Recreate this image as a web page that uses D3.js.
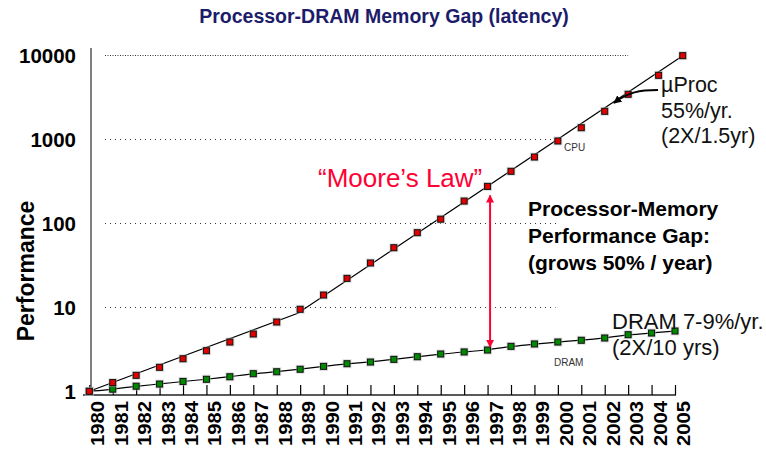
<!DOCTYPE html>
<html>
<head>
<meta charset="utf-8">
<script src="https://d3js.org/d3.v7.min.js"></script>
<style>
  body { margin: 0; background: #fff; }
  svg { display: block; font-family: "Liberation Sans", Arial, sans-serif; }
</style>
</head>
<body>
<div id="chart"></div>
<script>
// data
const years = d3.range(1980, 2006);
const cpuYears = [1980, 1981, 1982, 1983, 1984, 1985, 1986, 1987, 1988, 1989, 1990, 1991, 1992,
  1993, 1994, 1995, 1996, 1997, 1998, 1999, 2000, 2001, 2002, 2003, 2004.3, 2005.33];
const cpuValues = [1, 1.27, 1.55, 1.93, 2.44, 3.04, 3.86, 4.81, 6.68, 9.47, 14, 22.1, 33.7,
  51.2, 77.3, 112, 184, 275, 416, 615, 955, 1374, 2154, 3434, 5781, 9900];
const dramYears = years;
const dramValues = [1, 1.06, 1.15, 1.22, 1.31, 1.39, 1.49, 1.62, 1.71, 1.83, 1.98, 2.13, 2.23,
  2.40, 2.58, 2.78, 2.94, 3.10, 3.43, 3.66, 3.86, 4.05, 4.31, 4.72, 4.94, 5.22];
// CPU trend line knots
const cpuTrendYears = [1980, 1988.9, 2005.33];
const cpuTrendValues = [1, 8.5, 9900];
const yTicks = [1, 10, 100, 1000, 10000];
const gridEnds = [null, 1999.9, 2000, 1999.8, 2003];

const W = 766, H = 450;
const svg = d3.select("#chart").append("svg")
  .attr("width", W).attr("height", H);

const x = d3.scaleLinear().domain([1980, 2005]).range([89.3, 675]);
const y = d3.scaleLog().domain([1, 10000]).range([391.3, 55.3]);

// title
svg.append("text")
  .attr("x", 384).attr("y", 23)
  .attr("text-anchor", "middle")
  .attr("font-size", 19.5).attr("font-weight", "bold")
  .attr("fill", "#1c1c6a")
  .text("Processor-DRAM Memory Gap (latency)");

// dotted grid lines
yTicks.forEach((t, i) => {
  if (!gridEnds[i]) return;
  svg.append("line")
    .attr("x1", 105).attr("x2", x(gridEnds[i]))
    .attr("y1", Math.round(y(t)) + 0.5).attr("y2", Math.round(y(t)) + 0.5)
    .attr("stroke", "#333")
    .attr("stroke-width", 1)
    .attr("stroke-dasharray", t === 10000 ? "1 1.5" : "1 4");
});

// y tick labels
svg.append("g").selectAll("text")
  .data(yTicks).join("text")
  .attr("x", 76).attr("y", d => y(d) + 7.5)
  .attr("text-anchor", "end")
  .attr("font-size", 20.5).attr("font-weight", "bold")
  .attr("fill", "#000")
  .text(d => d);

// y axis title
svg.append("text")
  .attr("transform", "translate(34,271) rotate(-90)")
  .attr("text-anchor", "middle")
  .attr("font-size", 23).attr("font-weight", "bold")
  .text("Performance");

// axis lines
svg.append("line")
  .attr("x1", 91).attr("x2", 91).attr("y1", 48).attr("y2", 395)
  .attr("stroke", "#555").attr("stroke-width", 1.5);
const xAxis = svg.append("g").attr("transform", "translate(0,395)")
  .call(d3.axisBottom(x).tickValues(years).tickSize(-10).tickFormat(""));
xAxis.select(".domain").attr("d", "M83,0H676").attr("stroke", "#222").attr("stroke-width", 1.5);
xAxis.selectAll(".tick line").attr("stroke", "#000").attr("stroke-width", 1.2);

// x tick labels
svg.append("g").selectAll("text")
  .data(years).join("text")
  .attr("transform", d => `translate(${x(d) + 15},401) rotate(-90)`)
  .attr("text-anchor", "end")
  .attr("font-size", 17.5).attr("font-weight", "bold")
  .attr("textLength", 45).attr("lengthAdjust", "spacingAndGlyphs")
  .text(d => d);

// lines
const line = d3.line().x(d => x(d[0])).y(d => y(d[1]));
svg.append("path")
  .datum(cpuTrendYears.map((d, i) => [d, cpuTrendValues[i]]))
  .attr("fill", "none").attr("stroke", "#000").attr("stroke-width", 1.2)
  .attr("d", line);
svg.append("path")
  .datum(dramYears.map((d, i) => [d, dramValues[i]]))
  .attr("fill", "none").attr("stroke", "#000").attr("stroke-width", 1.2)
  .attr("d", line.curve(d3.curveBasis));

// markers
function markers(xs, vs, color) {
  const g = svg.append("g");
  const pts = xs.map((d, i) => [d, vs[i]]);
  g.selectAll("rect.sh").data(pts).join("rect")
    .attr("x", d => x(d[0]) - 4.5).attr("y", d => y(d[1]) - 4.5)
    .attr("width", 9).attr("height", 9)
    .attr("fill", "#bbb").attr("opacity", 0.5);
  g.selectAll("rect.mk").data(pts).join("rect")
    .attr("x", d => x(d[0]) - 3).attr("y", d => y(d[1]) - 3)
    .attr("width", 6).attr("height", 6)
    .attr("fill", color).attr("stroke", "#111").attr("stroke-width", 1);
}
markers(dramYears, dramValues, "#008a00");
markers(cpuYears, cpuValues, "#e00000");

// small series labels
svg.append("text").attr("x", 564).attr("y", 151)
  .attr("font-size", 10).attr("fill", "#333").text("CPU");
svg.append("text").attr("x", 554).attr("y", 366)
  .attr("font-size", 10).attr("fill", "#333").text("DRAM");

// arrow between curves at 1997
const defs = svg.append("defs");
defs.append("marker").attr("id", "redhead")
  .attr("viewBox", "0 0 10 10").attr("refX", 9).attr("refY", 5)
  .attr("markerWidth", 4).attr("markerHeight", 4).attr("orient", "auto-start-reverse")
  .append("path").attr("d", "M0,0L10,5L0,10Z").attr("fill", "#ff0033");
defs.append("marker").attr("id", "blackhead")
  .attr("viewBox", "0 0 10 10").attr("refX", 9).attr("refY", 5)
  .attr("markerWidth", 4).attr("markerHeight", 4).attr("orient", "auto")
  .append("path").attr("d", "M0,0L10,5L0,10Z").attr("fill", "#000");

const ax = x(1997) + 2.5;
svg.append("line")
  .attr("x1", ax).attr("x2", ax)
  .attr("y1", y(cpuValues[17]) + 9).attr("y2", y(dramValues[17]) - 3)
  .attr("stroke", "#ff0033").attr("stroke-width", 2)
  .attr("marker-start", "url(#redhead)").attr("marker-end", "url(#redhead)");

svg.append("text")
  .attr("x", 318).attr("y", 187)
  .attr("font-size", 26).attr("fill", "#ff0033")
  .text("\u201cMoore\u2019s Law\u201d");

// gap text
const gap = svg.append("text").attr("font-size", 21).attr("font-weight", "bold");
["Processor-Memory", "Performance Gap:", "(grows 50% / year)"].forEach((s, i) => {
  gap.append("tspan").attr("x", 528).attr("y", 216 + i * 27).text(s);
});

// uProc text and leader
const up = svg.append("text").attr("font-size", 21.5).attr("fill", "#111");
["\u00b5Proc", "55%/yr.", "(2X/1.5yr)"].forEach((s, i) => {
  up.append("tspan").attr("x", 661).attr("y", 92 + i * 25.5).text(s);
});
svg.append("path")
  .attr("d", "M658,90 C640,90 628,92 614,103")
  .attr("fill", "none").attr("stroke", "#000").attr("stroke-width", 2)
  .attr("marker-end", "url(#blackhead)");

const dr = svg.append("text").attr("font-size", 22).attr("fill", "#111");
["DRAM 7-9%/yr.", "(2X/10 yrs)"].forEach((s, i) => {
  dr.append("tspan").attr("x", 612).attr("y", 329 + i * 26).text(s);
});
</script>
</body>
</html>
